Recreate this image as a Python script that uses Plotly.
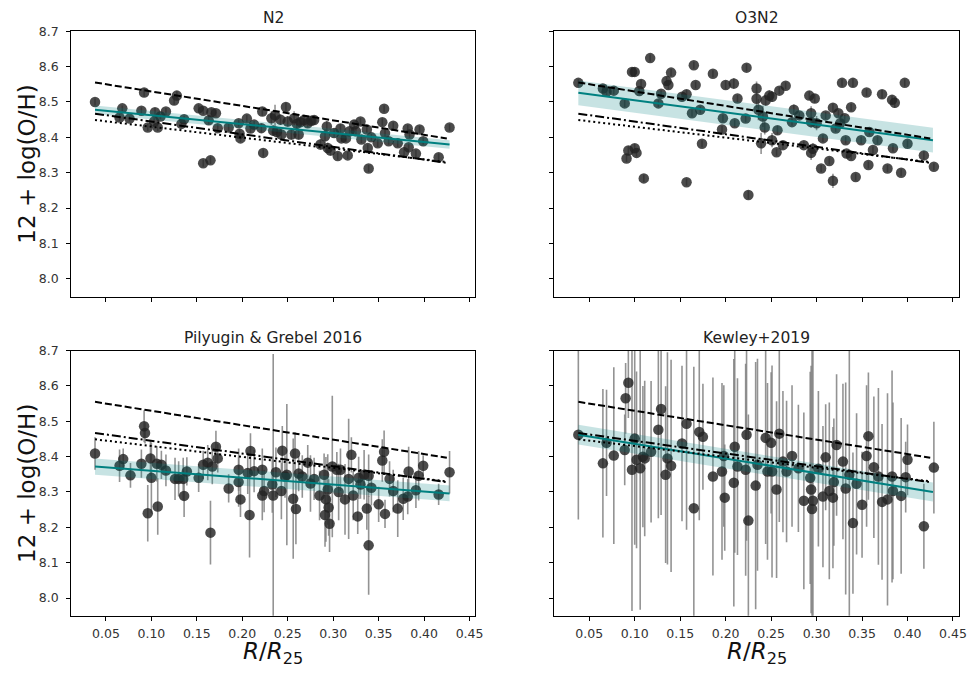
import plotly.graph_objects as go

# ---------------- data ----------------
# N2 calibration
R_n2 = [0.038, 0.068, 0.065, 0.076, 0.092, 0.089, 0.096, 0.104, 0.103, 0.107,
        0.110, 0.116, 0.125, 0.128, 0.133, 0.136, 0.152, 0.157, 0.163, 0.166,
        0.171, 0.157, 0.165, 0.173, 0.185, 0.196, 0.197, 0.198, 0.205, 0.209,
        0.213, 0.221, 0.222, 0.223, 0.232, 0.234, 0.236, 0.238, 0.242, 0.243,
        0.248, 0.250, 0.254, 0.257, 0.260, 0.262, 0.264, 0.268, 0.272, 0.276,
        0.279, 0.286, 0.293, 0.291, 0.294, 0.297, 0.301, 0.305, 0.308, 0.309,
        0.314, 0.316, 0.318, 0.323, 0.325, 0.330, 0.331, 0.337, 0.338, 0.339,
        0.342, 0.349, 0.354, 0.356, 0.357, 0.361, 0.366, 0.371, 0.378, 0.382,
        0.383, 0.384, 0.391, 0.395, 0.399, 0.416, 0.428]
OH_n2 = [8.500, 8.482, 8.456, 8.453, 8.527, 8.475, 8.428, 8.471, 8.445, 8.428,
         8.459, 8.473, 8.504, 8.518, 8.438, 8.451, 8.482, 8.475, 8.448, 8.471,
         8.468, 8.327, 8.335, 8.426, 8.428, 8.440, 8.410, 8.397, 8.453, 8.425,
         8.436, 8.426, 8.473, 8.356, 8.454, 8.419, 8.462, 8.415, 8.450, 8.408,
         8.486, 8.445, 8.408, 8.454, 8.438, 8.408, 8.443, 8.449, 8.440, 8.447,
         8.449, 8.380, 8.431, 8.403, 8.370, 8.363, 8.412, 8.347, 8.425, 8.397,
         8.397, 8.349, 8.417, 8.436, 8.417, 8.445, 8.394, 8.422, 8.370, 8.312,
         8.400, 8.383, 8.443, 8.481, 8.412, 8.389, 8.433, 8.383, 8.358, 8.425,
         8.372, 8.408, 8.354, 8.422, 8.389, 8.344, 8.428]
ERR_n2 = [0.010, 0.008, 0.010, 0.008, 0.012, 0.010, 0.010, 0.012, 0.010, 0.010,
          0.008, 0.010, 0.012, 0.012, 0.010, 0.010, 0.010, 0.010, 0.012, 0.010,
          0.010, 0.010, 0.010, 0.010, 0.010, 0.010, 0.012, 0.010, 0.010, 0.012,
          0.010, 0.012, 0.012, 0.010, 0.020, 0.015, 0.030, 0.015, 0.015, 0.015,
          0.012, 0.015, 0.015, 0.020, 0.015, 0.015, 0.012, 0.012, 0.012, 0.012,
          0.012, 0.015, 0.015, 0.020, 0.015, 0.015, 0.012, 0.010, 0.012, 0.010,
          0.010, 0.010, 0.010, 0.012, 0.010, 0.010, 0.010, 0.010, 0.010, 0.010,
          0.010, 0.010, 0.010, 0.010, 0.010, 0.010, 0.010, 0.010, 0.010, 0.010,
          0.010, 0.010, 0.010, 0.010, 0.010, 0.010, 0.010]

# O3N2 calibration
R_o3n2 = [0.038, 0.065, 0.069, 0.077, 0.089, 0.091, 0.093, 0.100, 0.102, 0.097,
          0.100, 0.105, 0.107, 0.110, 0.117, 0.126, 0.129, 0.135, 0.137, 0.140,
          0.152, 0.157, 0.157, 0.163, 0.165, 0.167, 0.172, 0.174, 0.186, 0.197,
          0.196, 0.200, 0.209, 0.210, 0.213, 0.222, 0.223, 0.225, 0.234, 0.234,
          0.236, 0.239, 0.241, 0.243, 0.244, 0.248, 0.251, 0.251, 0.256, 0.257,
          0.259, 0.263, 0.266, 0.273, 0.275, 0.281, 0.286, 0.292, 0.294, 0.294,
          0.294, 0.296, 0.298, 0.300, 0.305, 0.307, 0.310, 0.314, 0.318, 0.318,
          0.321, 0.324, 0.326, 0.328, 0.331, 0.332, 0.333, 0.338, 0.338, 0.340,
          0.343, 0.349, 0.355, 0.357, 0.358, 0.362, 0.367, 0.372, 0.378, 0.383,
          0.384, 0.386, 0.393, 0.397, 0.400, 0.418, 0.429]
OH_o3n2 = [8.554, 8.538, 8.529, 8.532, 8.496, 8.340, 8.363, 8.369, 8.356, 8.585,
           8.585, 8.531, 8.551, 8.284, 8.624, 8.496, 8.523, 8.559, 8.548, 8.583,
           8.515, 8.522, 8.273, 8.468, 8.604, 8.548, 8.478, 8.382, 8.580, 8.454,
           8.422, 8.548, 8.552, 8.440, 8.510, 8.453, 8.597, 8.237, 8.538, 8.509,
           8.478, 8.383, 8.459, 8.428, 8.504, 8.518, 8.392, 8.515, 8.358, 8.420,
           8.532, 8.378, 8.546, 8.443, 8.478, 8.462, 8.378, 8.518, 8.468, 8.443,
           8.356, 8.368, 8.510, 8.440, 8.312, 8.397, 8.462, 8.333, 8.277, 8.484,
           8.425, 8.468, 8.440, 8.554, 8.454, 8.392, 8.354, 8.485, 8.347, 8.554,
           8.288, 8.392, 8.527, 8.322, 8.415, 8.364, 8.392, 8.522, 8.312, 8.506,
           8.369, 8.498, 8.300, 8.554, 8.382, 8.349, 8.317]
ERR_o3n2 = [0.010, 0.010, 0.010, 0.010, 0.010, 0.010, 0.012, 0.012, 0.010, 0.012,
            0.012, 0.010, 0.012, 0.010, 0.010, 0.010, 0.010, 0.012, 0.012, 0.010,
            0.010, 0.012, 0.010, 0.010, 0.010, 0.010, 0.010, 0.010, 0.010, 0.010,
            0.010, 0.012, 0.015, 0.010, 0.010, 0.010, 0.010, 0.012, 0.020, 0.025,
            0.030, 0.030, 0.030, 0.020, 0.015, 0.015, 0.020, 0.015, 0.010, 0.012,
            0.010, 0.012, 0.010, 0.010, 0.015, 0.010, 0.010, 0.012, 0.020, 0.015,
            0.020, 0.015, 0.012, 0.020, 0.010, 0.010, 0.010, 0.010, 0.020, 0.012,
            0.010, 0.010, 0.010, 0.010, 0.010, 0.010, 0.010, 0.010, 0.010, 0.012,
            0.010, 0.010, 0.010, 0.010, 0.010, 0.010, 0.010, 0.012, 0.010, 0.012,
            0.010, 0.015, 0.010, 0.010, 0.010, 0.012, 0.010]

# Pilyugin & Grebel 2016 calibration
R_pg16 = [0.038, 0.065, 0.069, 0.077, 0.089, 0.092, 0.093, 0.096, 0.099, 0.100,
          0.106, 0.107, 0.111, 0.116, 0.126, 0.130, 0.135, 0.136, 0.139, 0.152,
          0.157, 0.162, 0.165, 0.167, 0.171, 0.173, 0.185, 0.196, 0.196, 0.198,
          0.208, 0.209, 0.206, 0.213, 0.222, 0.222, 0.224, 0.233, 0.234, 0.237,
          0.243, 0.244, 0.247, 0.249, 0.256, 0.259, 0.258, 0.262, 0.266, 0.272,
          0.275, 0.279, 0.285, 0.290, 0.291, 0.292, 0.294, 0.295, 0.296, 0.299,
          0.304, 0.306, 0.308, 0.313, 0.317, 0.320, 0.322, 0.327, 0.328, 0.330,
          0.334, 0.337, 0.339, 0.339, 0.342, 0.350, 0.354, 0.356, 0.357, 0.362,
          0.366, 0.371, 0.377, 0.382, 0.383, 0.391, 0.394, 0.399, 0.416, 0.428]
OH_pg16 = [8.409, 8.374, 8.393, 8.347, 8.380, 8.486, 8.467, 8.240, 8.395, 8.340,
           8.380, 8.259, 8.377, 8.361, 8.337, 8.337, 8.337, 8.289, 8.358, 8.340,
           8.377, 8.383, 8.185, 8.372, 8.428, 8.395, 8.310, 8.363, 8.328, 8.279,
           8.235, 8.416, 8.354, 8.359, 8.363, 8.290, 8.303, 8.321, 8.290, 8.356,
           8.303, 8.417, 8.344, 8.349, 8.281, 8.252, 8.409, 8.352, 8.344, 8.383,
           8.324, 8.337, 8.290, 8.349, 8.235, 8.279, 8.307, 8.256, 8.210, 8.372,
           8.363, 8.300, 8.363, 8.279, 8.337, 8.405, 8.290, 8.231, 8.340, 8.321,
           8.349, 8.253, 8.346, 8.149, 8.312, 8.265, 8.389, 8.414, 8.238, 8.337,
           8.303, 8.253, 8.281, 8.287, 8.358, 8.305, 8.346, 8.374, 8.293, 8.356]
ERR_pg16 = [0.046, 0.046, 0.030, 0.035, 0.040, 0.045, 0.030, 0.080, 0.050, 0.100,
            0.050, 0.080, 0.040, 0.045, 0.060, 0.050, 0.060, 0.060, 0.040, 0.040,
            0.040, 0.050, 0.090, 0.050, 0.045, 0.040, 0.040, 0.060, 0.070, 0.050,
            0.120, 0.050, 0.060, 0.060, 0.060, 0.070, 0.060, 0.080, 0.400, 0.070,
            0.080, 0.070, 0.060, 0.200, 0.170, 0.100, 0.060, 0.050, 0.060, 0.050,
            0.080, 0.060, 0.070, 0.060, 0.090, 0.120, 0.100, 0.080, 0.080, 0.200,
            0.050, 0.080, 0.060, 0.100, 0.170, 0.050, 0.070, 0.050, 0.060, 0.040,
            0.070, 0.060, 0.060, 0.140, 0.050, 0.050, 0.060, 0.060, 0.040, 0.050,
            0.060, 0.080, 0.060, 0.050, 0.070, 0.050, 0.070, 0.030, 0.030, 0.060]

# Kewley+2019 calibration
R_k19 = [0.038, 0.065, 0.069, 0.077, 0.089, 0.090, 0.093, 0.097, 0.100, 0.102,
         0.106, 0.109, 0.111, 0.118, 0.126, 0.129, 0.134, 0.136, 0.140, 0.152,
         0.157, 0.165, 0.171, 0.175, 0.186, 0.196, 0.198, 0.199, 0.209, 0.210,
         0.213, 0.222, 0.223, 0.225, 0.233, 0.235, 0.244, 0.246, 0.250, 0.251,
         0.256, 0.259, 0.263, 0.267, 0.273, 0.280, 0.286, 0.293, 0.294, 0.295,
         0.296, 0.302, 0.307, 0.310, 0.314, 0.318, 0.319, 0.322, 0.329, 0.332,
         0.336, 0.340, 0.344, 0.350, 0.355, 0.357, 0.363, 0.368, 0.372, 0.378,
         0.383, 0.384, 0.393, 0.398, 0.400, 0.418, 0.429]
OH_k19 = [8.462, 8.381, 8.439, 8.403, 8.419, 8.565, 8.609, 8.363, 8.451, 8.391,
          8.367, 8.400, 8.395, 8.414, 8.476, 8.535, 8.349, 8.395, 8.374, 8.437,
          8.493, 8.254, 8.470, 8.456, 8.344, 8.358, 8.402, 8.284, 8.326, 8.428,
          8.372, 8.363, 8.462, 8.219, 8.318, 8.377, 8.453, 8.358, 8.439, 8.358,
          8.307, 8.465, 8.386, 8.358, 8.402, 8.367, 8.275, 8.340, 8.307, 8.252,
          8.275, 8.366, 8.287, 8.398, 8.303, 8.284, 8.328, 8.433, 8.386, 8.310,
          8.349, 8.212, 8.323, 8.264, 8.402, 8.458, 8.370, 8.344, 8.272, 8.279,
          8.344, 8.303, 8.289, 8.342, 8.391, 8.203, 8.369]
ERR_k19 = [0.24, 0.21, 0.15, 0.25, 0.10, 0.10, 0.10, 0.40, 0.30, 0.25,
           0.40, 0.20, 0.22, 0.20, 0.25, 0.30, 0.25, 0.30, 0.30, 0.22,
           0.30, 0.40, 0.25, 0.15, 0.28, 0.25, 0.20, 0.15, 0.35, 0.30,
           0.25, 0.30, 0.30, 0.30, 0.35, 0.30, 0.30, 0.25, 0.20, 0.30,
           0.25, 0.25, 0.20, 0.20, 0.20, 0.18, 0.25, 0.30, 0.35, 0.50,
           0.45, 0.22, 0.20, 0.15, 0.25, 0.20, 0.18, 0.20, 0.22, 0.30,
           0.40, 0.20, 0.20, 0.15, 0.20, 0.18, 0.20, 0.25, 0.22, 0.30,
           0.30, 0.25, 0.22, 0.10, 0.10, 0.12, 0.13]

# linear fits (endpoints) and their uncertainty half-widths
FIT_R = [0.038, 0.428]
FIT_n2 = [8.478, 8.380]
FIT_o3n2 = [8.526, 8.392]
FIT_pg16 = [8.372, 8.296]
FIT_k19 = [8.462, 8.300]
BAND_n2 = [0.012, 0.012]
BAND_o3n2 = [0.035, 0.035]
BAND_pg16 = [0.023, 0.022]
BAND_k19 = [0.028, 0.027]

# literature gradients (same in every panel)
LIT_R = [0.038, 0.425]
LIT_dashed = [8.555, 8.397]
LIT_dashdot = [8.467, 8.328]
LIT_dotted = [8.449, 8.330]

titles = ["N2", "O3N2", "Pilyugin & Grebel 2016", "Kewley+2019"]
x_ticks = [0.05, 0.10, 0.15, 0.20, 0.25, 0.30, 0.35, 0.40, 0.45]
y_ticks = [8.0, 8.1, 8.2, 8.3, 8.4, 8.5, 8.6, 8.7]

# ---------------- figure ----------------
W, H = 978, 675
FONT = "DejaVu Sans"
TEAL = "#008080"

# panel boxes in pixels: (left, right, top, bottom)
boxes = [(71.7, 479.3, 23.5, 292.0), (559.0, 966.7, 23.5, 292.0),
         (71.7, 479.3, 346.7, 615.0), (559.0, 966.7, 346.7, 615.0)]

panels = [
    (R_n2, OH_n2, ERR_n2, FIT_n2, BAND_n2),
    (R_o3n2, OH_o3n2, ERR_o3n2, FIT_o3n2, BAND_o3n2),
    (R_pg16, OH_pg16, ERR_pg16, FIT_pg16, BAND_pg16),
    (R_k19, OH_k19, ERR_k19, FIT_k19, BAND_k19),
]

fig = go.Figure()
layout = dict(width=W, height=H, margin=dict(l=0, r=0, t=0, b=0),
              paper_bgcolor="white", plot_bgcolor="white", showlegend=False,
              font=dict(family=FONT, color="#222222"))
annotations = []

for i, (R, OH, ERR, FIT, BAND) in enumerate(panels):
    k = "" if i == 0 else str(i + 1)
    xa, ya = "x" + k, "y" + k
    n = min(len(R), len(OH), len(ERR))
    # points with error bars
    fig.add_trace(go.Scatter(
        x=R[:n], y=OH[:n], mode="markers", xaxis=xa, yaxis=ya,
        marker=dict(size=10.5, color="rgba(35,35,35,0.82)", line=dict(width=0)),
        error_y=dict(type="data", array=ERR[:n], visible=True,
                     color="rgba(128,128,128,0.85)", thickness=1.6, width=0),
    ))
    # fit band
    lo = [f - b for f, b in zip(FIT, BAND)]
    hi = [f + b for f, b in zip(FIT, BAND)]
    fig.add_trace(go.Scatter(x=FIT_R + FIT_R[::-1], y=hi + lo[::-1], mode="lines",
                             fill="toself", fillcolor="rgba(0,128,128,0.22)",
                             line=dict(width=0), xaxis=xa, yaxis=ya, hoverinfo="skip"))
    fig.add_trace(go.Scatter(x=FIT_R, y=FIT, mode="lines", xaxis=xa, yaxis=ya,
                             line=dict(color=TEAL, width=2)))
    # literature gradients
    for yy, dash in ((LIT_dashed, "7px,3px"), (LIT_dashdot, "9px,3px,2px,3px"),
                     (LIT_dotted, "2px,3px")):
        fig.add_trace(go.Scatter(x=LIT_R, y=yy, mode="lines", xaxis=xa, yaxis=ya,
                                 line=dict(color="black", width=2, dash=dash)))

    L, Rt, T, B = boxes[i]
    bottom_row = i >= 2
    left_col = i % 2 == 0
    layout["xaxis" + k] = dict(
        domain=[L / W, Rt / W], anchor=ya, range=[0.0117, 0.4564],
        tickvals=x_ticks, ticktext=["%.2f" % v for v in x_ticks],
        showticklabels=bottom_row, ticks="outside", ticklen=4, tickwidth=1,
        tickcolor="black", showline=True, mirror=True, linecolor="black",
        linewidth=1, showgrid=False, zeroline=False, ticklabelstandoff=2,
        tickfont=dict(family=FONT, size=12.5, color="#333333"))
    layout["yaxis" + k] = dict(
        domain=[1 - B / H, 1 - T / H], anchor=xa, range=[7.95, 8.7],
        tickvals=y_ticks, ticktext=["%.1f" % v for v in y_ticks],
        showticklabels=left_col, ticks="outside", ticklen=4, tickwidth=1,
        tickcolor="black", showline=True, mirror=True, linecolor="black",
        linewidth=1, showgrid=False, zeroline=False, ticklabelstandoff=5,
        tickfont=dict(family=FONT, size=12.5, color="#333333"))

    # panel title
    annotations.append(dict(text=titles[i], x=(L + Rt) / 2 / W, y=1 - (T - 13) / H,
                            xref="paper", yref="paper", xanchor="center",
                            yanchor="middle", showarrow=False,
                            font=dict(family=FONT, size=15.5, color="#222222")))
    if left_col:
        annotations.append(dict(text="12 + log(O/H)", x=27 / W, y=1 - (T + B) / 2 / H,
                                xref="paper", yref="paper", xanchor="center",
                                yanchor="middle", textangle=-90, showarrow=False,
                                font=dict(family=FONT, size=23, color="#111111")))
    if bottom_row:
        annotations.append(dict(text="<i>R</i>/<i>R</i><sub>25</sub>",
                                x=(L + Rt) / 2 / W, y=1 - 653 / H,
                                xref="paper", yref="paper", xanchor="center",
                                yanchor="middle", showarrow=False,
                                font=dict(family=FONT, size=23, color="#111111")))

layout["annotations"] = annotations
fig.update_layout(**layout)
fig.write_html("out.html", config={"displayModeBar": False},
               post_script="document.body.style.margin='0px';"
                           "document.body.style.overflow='hidden';")
